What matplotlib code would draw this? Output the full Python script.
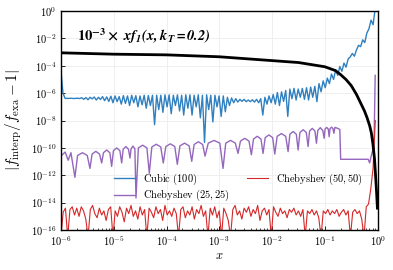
import numpy as np
import matplotlib
matplotlib.use("Agg")
import matplotlib.pyplot as plt
from matplotlib.ticker import LogLocator, FuncFormatter, NullFormatter

plt.rcParams["mathtext.fontset"] = "cm"

# ── Data (exponents: value = 10**e) ───────────────────────────────────────────
# Cubic (100): uniform sampling in log x from 1e-6 to ~0.9
cubic_logx_range = (-6.0, -0.047)
cubic_loge = [
    -4.35, -6.0, -6.38, -6.38, -6.38, -6.37, -6.39, -6.38, -6.37, -6.39,
    -6.33, -6.45, -6.32, -6.48, -6.30, -6.42, -6.28, -6.50, -6.30, -6.46,
    -6.25, -6.55, -6.27, -6.60, -6.22, -6.70, -6.20, -6.62, -6.25, -6.80,
    -6.18, -6.75, -6.20, -6.90, -6.15, -6.70, -6.18, -7.00, -6.20, -6.85,
    -6.15, -7.10, -6.17, -6.90, -6.15, -8.30, -6.15, -7.20, -6.15, -7.40,
    -6.12, -7.00, -6.12, -7.50, -6.15, -6.90, -6.12, -7.30, -6.15, -7.60,
    -6.12, -7.10, -6.12, -7.60, -6.15, -7.00, -6.12, -7.80, -6.15, -9.60,
    -6.12, -7.20, -6.15, -8.10, -6.15, -7.00, -6.20, -7.70, -6.20, -7.36,
    -6.30, -6.90, -6.35, -6.70, -6.40, -6.65, -6.45, -6.60, -6.45, -6.62,
    -6.50, -6.62, -6.48, -6.65, -6.45, -6.70, -6.40, -7.60, -6.30, -6.80,
    -6.20, -6.70, -6.10, -6.80, -5.95, -6.90, -5.90, -6.60, -5.80, -7.70,
    -5.70, -6.40, -5.65, -6.50, -5.70, -6.30, -5.65, -6.45, -5.60, -6.50,
    -5.55, -6.30, -5.50, -6.62, -5.30, -5.90, -5.10, -5.60, -4.90, -5.30,
    -4.60, -5.00, -4.30, -4.70, -4.05, -4.40, -3.80, -4.10, -3.50, -3.35,
    -3.10, -3.30, -2.85, -2.50, -2.60, -2.10, -2.30, -1.60, -1.30, -0.66,
    -1.00, 0.20,
]

# Chebyshev (25, 25): rounded arches between sharp cusps
cheb25_logx = [
    -6.000, -5.920, -5.862,
    -5.810, -5.735,
    -5.684, -5.592, -5.501, -5.450,
    -5.410, -5.339, -5.268, -5.228,
    -5.194, -5.133, -5.073, -5.039,
    -5.005, -4.944, -4.883, -4.849,
    -4.821, -4.770, -4.720, -4.692,
    -4.671, -4.635, -4.599, -4.578,
    -4.533, -4.452, -4.371, -4.326,
    -4.278, -4.193, -4.109, -4.061,
    -4.013, -3.928, -3.843, -3.795,
    -3.746, -3.658, -3.571, -3.522,
    -3.477, -3.396, -3.315, -3.270,
    -3.209, -3.099, -2.990, -2.929,
    -2.878, -2.787, -2.696, -2.645,
    -2.599, -2.518, -2.437, -2.392,
    -2.352, -2.281, -2.211, -2.171,
    -2.131, -2.060, -1.989, -1.949,
    -1.904, -1.823, -1.742, -1.697,
    -1.663, -1.602, -1.541, -1.507,
    -1.473, -1.412, -1.352, -1.318,
    -1.290, -1.239, -1.188, -1.160,
    -1.134, -1.087, -1.040, -1.014,
    -0.997, -0.966, -0.936, -0.919,
    -0.903, -0.874, -0.846, -0.830,
    -0.810, -0.770, -0.717, -0.701,
    -0.180, -0.152, -0.123, -0.095, -0.066, -0.047,
]
cheb25_loge = [
    -10.60, -10.30, -10.90,
    -10.35, -12.15,
    -10.55, -10.35, -10.55, -11.50,
    -10.45, -10.25, -10.45, -11.10,
    -10.35, -10.15, -10.35, -11.35,
    -10.20, -10.00, -10.20, -11.10,
    -10.10, -9.90, -10.10, -10.74,
    -10.07, -9.87, -10.07, -13.66,
    -10.00, -9.80, -10.00, -11.85,
    -9.93, -9.73, -9.93, -11.10,
    -9.90, -9.70, -9.90, -11.20,
    -9.85, -9.65, -9.85, -10.98,
    -9.75, -9.55, -9.75, -10.60,
    -9.65, -9.45, -9.65, -11.50,
    -9.65, -9.45, -9.65, -10.40,
    -9.50, -9.30, -9.50, -10.50,
    -9.35, -9.15, -9.35, -10.40,
    -9.25, -9.05, -9.25, -10.45,
    -9.15, -8.95, -9.15, -10.27,
    -9.00, -8.80, -9.00, -10.15,
    -8.87, -8.67, -8.87, -9.90,
    -8.77, -8.57, -8.77, -9.66,
    -8.72, -8.52, -8.72, -9.30,
    -8.62, -8.50, -8.62, -9.18,
    -8.60, -8.48, -8.60, -8.93,
    -8.50, -8.55, -8.65, -10.83,
    -10.83, -11.10, -10.60, -10.20, -9.00, -4.70,
]

# Chebyshev (50, 50): uniform sampling in log x
cheb50_logx_range = (-6.0, -0.045)
cheb50_loge = [
    -16.5, -14.7, -14.4, -16.5, -14.5, -14.3, -14.9, -14.4, -15.0, -14.3,
    -14.6, -15.2, -16.5, -14.5, -14.2, -14.8, -15.1, -14.4, -14.9, -14.6,
    -15.3, -14.5, -14.3, -16.5, -14.6, -15.0, -14.3, -14.7, -15.4, -14.4,
    -14.8, -14.2, -15.0, -14.6, -15.2, -14.3, -14.9, -14.5, -16.5, -14.4,
    -14.7, -15.1, -14.3, -14.8, -14.5, -15.3, -14.2, -14.9, -14.6, -15.0,
    -14.4, -14.8, -16.5, -14.5, -14.3, -15.1, -14.6, -14.9, -14.3, -15.2,
    -14.5, -14.8, -14.2, -15.0, -14.6, -16.5, -14.4, -14.9, -14.3, -15.1,
    -14.6, -16.5, -14.4, -14.8, -15.3, -16.5, -14.5, -14.2, -14.9, -14.6,
    -15.2, -14.4, -14.7, -14.3, -15.0, -14.5, -14.8, -14.2, -15.3, -14.6,
    -14.4, -14.9, -14.5, -16.5, -14.3, -14.7, -15.0, -14.4, -14.8, -14.6,
    -15.1, -14.5, -14.7, -14.4, -14.9, -14.6, -15.0, -14.5, -16.5, -14.6,
    -14.8, -14.5, -14.9, -14.6, -15.1, -16.5, -14.6, -14.8, -14.5, -14.9,
    -14.6, -14.8, -14.5, -15.0, -14.7, -14.5, -14.9, -14.6, -16.5, -14.7,
    -14.5, -14.8, -14.6, -15.2, -16.5, -14.3, -14.1, -13.0, -11.5, -8.0,
]

# Reference curve 1e-3 * x f1(x, kT=0.2)
ref_logx = [-6, -5, -4, -3, -2, -1.5, -1.0, -0.8, -0.7, -0.6, -0.5,
            -0.4, -0.3, -0.25, -0.2, -0.15, -0.12, -0.09, -0.06, -0.04, -0.02, -0.005]
ref_loge = [-3.05, -3.15, -3.2, -3.34, -3.62, -3.76, -4.07, -4.35, -4.65, -5.0, -5.45,
            -6.1, -6.9, -7.3, -7.8, -8.4, -8.9, -9.7, -10.8, -12.0, -13.3, -14.4]

labels = [r"$\mathrm{Cubic}\ (100)$",
          r"$\mathrm{Chebyshev}\ (25,25)$",
          r"$\mathrm{Chebyshev}\ (50,50)$"]
colors = ["#2f80c0", "#9467bd", "#d62728"]

# ── Figure ────────────────────────────────────────────────────────────────────
fig = plt.figure(figsize=(3.93, 2.70), dpi=100)
ax = fig.add_axes([0.155, 0.148, 0.806, 0.811])

x_cubic = np.logspace(*cubic_logx_range, len(cubic_loge))
x_c50 = np.logspace(*cheb50_logx_range, len(cheb50_loge))

ax.plot(x_cubic, 10.0 ** np.array(cubic_loge), color=colors[0], lw=1.0, label=labels[0])
ax.plot(10.0 ** np.array(cheb25_logx), 10.0 ** np.array(cheb25_loge),
        color=colors[1], lw=1.0, label=labels[1])
ax.plot(x_c50, 10.0 ** np.array(cheb50_loge), color=colors[2], lw=0.8, label=labels[2])
ax.plot(10.0 ** np.array(ref_logx), 10.0 ** np.array(ref_loge), color="black", lw=2.0, zorder=5)

ax.set_xscale("log")
ax.set_yscale("log")
ax.set_xlim(1e-6, 1)
ax.set_ylim(1e-16, 1)

ax.xaxis.set_major_locator(LogLocator(base=10, numticks=10))
ax.xaxis.set_minor_locator(LogLocator(base=10, subs=np.arange(2, 10), numticks=100))
ax.xaxis.set_minor_formatter(NullFormatter())
ax.set_yticks([10.0 ** e for e in range(-16, 1, 2)])
ax.yaxis.set_minor_locator(matplotlib.ticker.NullLocator())
fmt = FuncFormatter(lambda v, p: r"$10^{%d}$" % round(np.log10(v)))
ax.xaxis.set_major_formatter(fmt)
ax.yaxis.set_major_formatter(fmt)
ax.tick_params(which="both", direction="in", labelsize=7.5)
ax.tick_params(which="major", length=3, width=0.6, pad=3)
ax.tick_params(which="minor", length=1.8, width=0.5)

ax.grid(True, which="major", color="#ececec", lw=0.6)
ax.set_axisbelow(True)
for s in ax.spines.values():
    s.set_linewidth(1.0)

ax.set_xlabel(r"$x$", fontsize=9, labelpad=1)
ax.set_ylabel(r"$|f_{\rm interp}/f_{\rm exa} - 1|$", fontsize=11)
ax.yaxis.set_label_coords(-0.115, 0.5)

ax.text(0.05, 0.886, r"$\mathbf{10^{-3}\times}\ \mathbfit{x f_1(x, k_T = 0.2)}$",
        transform=ax.transAxes, fontsize=10.5, ha="left", va="center",
        math_fontfamily="stix")

ax.legend(ncol=2, frameon=False, fontsize=7.5, loc="upper left",
          bbox_to_anchor=(0.155, 0.285), handlelength=2.0, labelspacing=0.1,
          columnspacing=1.6, handletextpad=0.8, borderaxespad=0)

fig.savefig("out.png", dpi=100)
